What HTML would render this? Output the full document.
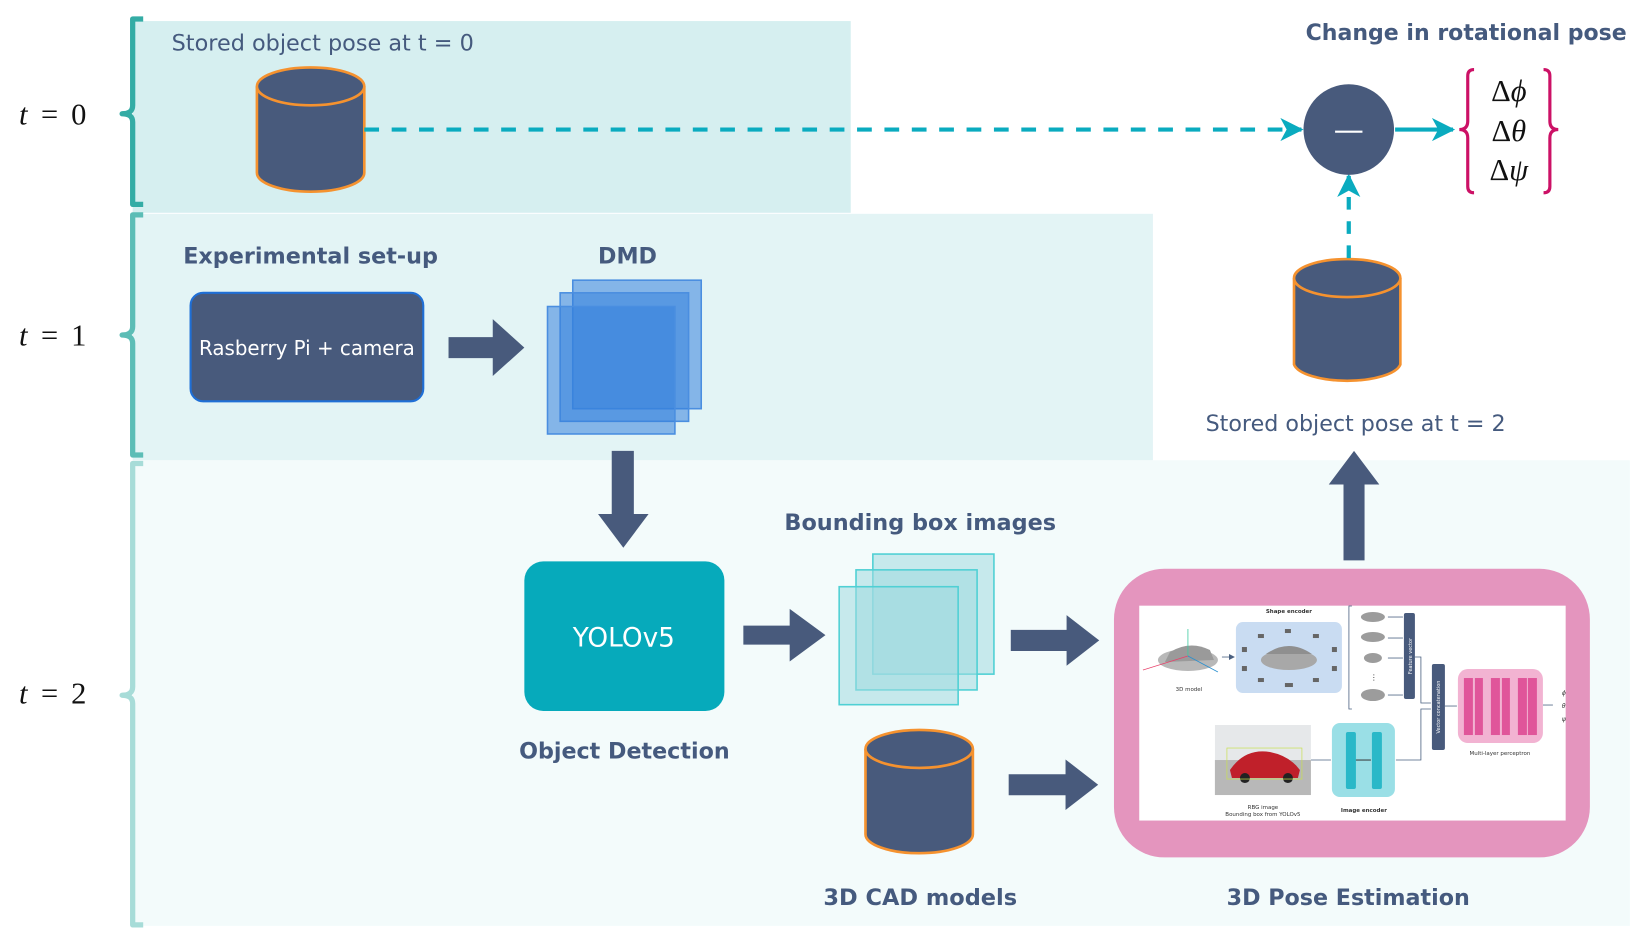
<!DOCTYPE html>
<html><head><meta charset="utf-8"><style>
html,body{margin:0;padding:0;background:#fff;}
svg{display:block;}
text{font-family:"DejaVu Sans","Liberation Sans",sans-serif;}
.b{font-weight:bold;fill:#455a7e;font-size:21px;}
.m{font-family:"Liberation Serif",serif;font-style:italic;font-size:29px;fill:#111;}
</style></head><body>
<svg width="1652" height="948" viewBox="0 0 1569 900" preserveAspectRatio="none" xmlns="http://www.w3.org/2000/svg">
<defs>
<marker id="ah2" markerWidth="22" markerHeight="22" refX="20" refY="11" orient="auto" markerUnits="userSpaceOnUse"><path d="M0,0 L22,11 L0,22 L6,11 Z" fill="#0aabbf"/></marker>
<marker id="sa" markerWidth="6" markerHeight="6" refX="5" refY="3" orient="auto" markerUnits="userSpaceOnUse"><path d="M0,0 L6,3 L0,6Z" fill="#4a6080"/></marker>
</defs>
<rect x="0" y="0" width="1569" height="900" fill="#fff"/>
<rect x="126" y="20" width="682" height="182" fill="#d6eff0"/>
<rect x="126" y="203" width="969" height="234" fill="#e3f4f5"/>
<rect x="126" y="437" width="1422" height="442" fill="#f3fbfb"/>
<path d="M136,18 H126 V100 Q126,108 116,108 Q126,108 126,116 V194 H136" fill="none" stroke="#34aca5" stroke-width="5" stroke-linejoin="round"/>
<path d="M136,204 H126 V310 Q126,318 116,318 Q126,318 126,326 V432 H136" fill="none" stroke="#5cbdb6" stroke-width="5" stroke-linejoin="round"/>
<path d="M136,440 H126 V652 Q126,660 116,660 Q126,660 126,668 V878 H136" fill="none" stroke="#a7dcd8" stroke-width="5" stroke-linejoin="round"/>
<text class="m" x="18" y="118" textLength="64" lengthAdjust="spacing">t = <tspan font-style="normal">0</tspan></text>
<text class="m" x="18" y="328" textLength="64" lengthAdjust="spacing">t = <tspan font-style="normal">1</tspan></text>
<text class="m" x="18" y="668" textLength="64" lengthAdjust="spacing">t = <tspan font-style="normal">2</tspan></text>
<text x="163" y="48" font-size="21" fill="#455a7e" textLength="287" lengthAdjust="spacingAndGlyphs">Stored object pose at t = 0</text>
<g stroke="#f5922f" stroke-width="2.5" fill="#485a7c">
<path d="M244,82 V164 A51,18 0 0 0 346,164 V82"/>
<ellipse cx="295" cy="82" rx="51" ry="18"/>
<path d="M1229,264 V346 A51,18 0 0 0 1330,346 V264"/>
<ellipse cx="1279.5" cy="264" rx="50.5" ry="18"/>
<path d="M822,711 V792 A51,18 0 0 0 924,792 V711"/>
<ellipse cx="873" cy="711" rx="51" ry="18"/>
</g>
<line x1="346" y1="123" x2="1236" y2="123" stroke="#0aabbf" stroke-width="4" stroke-dasharray="14,12" marker-end="url(#ah2)"/>
<line x1="1281" y1="245" x2="1281" y2="167" stroke="#0aabbf" stroke-width="4" stroke-dasharray="12,11" marker-end="url(#ah2)"/>
<circle cx="1281" cy="123" r="43" fill="#485a7c"/>
<line x1="1268" y1="125" x2="1294" y2="125" stroke="#fff" stroke-width="2"/>
<line x1="1325" y1="123" x2="1380" y2="123" stroke="#0aabbf" stroke-width="4" marker-end="url(#ah2)"/>
<text class="b" x="1240" y="38" textLength="305" lengthAdjust="spacingAndGlyphs">Change in rotational pose</text>
<path d="M1400,66 Q1394,66 1394,72 V115 Q1394,123 1386,123 Q1394,123 1394,131 V177 Q1394,183 1400,183" fill="none" stroke="#cc1166" stroke-width="3"/>
<path d="M1466,66 Q1472,66 1472,72 V115 Q1472,123 1480,123 Q1472,123 1472,131 V177 Q1472,183 1466,183" fill="none" stroke="#cc1166" stroke-width="3"/>
<text class="m" x="1433" y="96" text-anchor="middle" style="font-style:normal">Δ<tspan font-style="italic">ϕ</tspan></text>
<text class="m" x="1433" y="134" text-anchor="middle" style="font-style:normal">Δ<tspan font-style="italic">θ</tspan></text>
<text class="m" x="1433" y="171" text-anchor="middle" style="font-style:normal">Δ<tspan font-style="italic">ψ</tspan></text>
<text x="1145" y="409" font-size="21" fill="#455a7e" textLength="285" lengthAdjust="spacingAndGlyphs">Stored object pose at t = 2</text>
<g fill="#485a7c">
<path d="M1276,532 V460 H1262 L1286,428 L1310,460 H1296 V532 Z"/>
<path d="M426,320 H468 V303 L498,330 L468,357 V340 H426 Z"/>
<path d="M581,428 H602 V488 H616 L592,520 L568,488 H581 Z"/>
<path d="M706,594 H750 V578 L784,603 L750,628 V612 H706 Z"/>
<path d="M960,598 H1013 V584 L1044,608 L1013,632 V618 H960 Z"/>
<path d="M958,735 H1012 V721 L1043,745 L1012,769 V755 H958 Z"/>
</g>
<text class="b" x="174" y="250" textLength="242" lengthAdjust="spacingAndGlyphs">Experimental set-up</text>
<rect x="181" y="278" width="221" height="103" rx="12" fill="#485a7c" stroke="#1f6fd6" stroke-width="2"/>
<text x="189" y="337" font-size="19" fill="#fff" textLength="205" lengthAdjust="spacingAndGlyphs">Rasberry Pi + camera</text>
<text class="b" x="568" y="250" textLength="56" lengthAdjust="spacingAndGlyphs">DMD</text>
<g stroke="#4a8ee0" stroke-width="1.5" fill="rgba(55,130,220,0.55)">
<rect x="544" y="266" width="122" height="122"/>
<rect x="532" y="278" width="122" height="122"/>
<rect x="520" y="291" width="121" height="121"/>
</g>
<rect x="498" y="533" width="190" height="142" rx="18" fill="#06aabb"/>
<text x="544" y="614" font-size="25" fill="#fff" textLength="97" lengthAdjust="spacingAndGlyphs">YOLOv5</text>
<text class="b" x="493" y="720" textLength="200" lengthAdjust="spacingAndGlyphs">Object Detection</text>
<text class="b" x="745" y="503" textLength="258" lengthAdjust="spacingAndGlyphs">Bounding box images</text>
<g stroke="#4fd0d4" stroke-width="1.5" fill="rgba(160,218,224,0.55)">
<rect x="829" y="526" width="115" height="114"/>
<rect x="813" y="541" width="115" height="114"/>
<rect x="797" y="557" width="113" height="112"/>
</g>
<text class="b" x="782" y="859" textLength="184" lengthAdjust="spacingAndGlyphs">3D CAD models</text>
<text class="b" x="1165" y="859" textLength="231" lengthAdjust="spacingAndGlyphs">3D Pose Estimation</text>
<rect x="1058" y="540" width="452" height="274" rx="48" fill="#e495be"/>
<rect x="1082" y="575" width="405" height="204" fill="#fff"/>
<g transform="scale(0.9497,0.9494)" font-size="5.5" fill="#333">
<text x="1289" y="613" text-anchor="middle" font-weight="bold">Shape encoder</text>
<ellipse cx="1188" cy="660" rx="30" ry="11" fill="#b8b8b8"/>
<path d="M1170,652 Q1190,640 1210,650 L1214,660 L1165,662Z" fill="#9a9a9a"/>
<line x1="1188" y1="656" x2="1188" y2="629" stroke="#3cc9a0" stroke-width="0.8"/>
<line x1="1188" y1="656" x2="1143" y2="670" stroke="#e8406a" stroke-width="0.8"/>
<line x1="1188" y1="656" x2="1218" y2="672" stroke="#2a90d0" stroke-width="0.8"/>
<text x="1189" y="691" text-anchor="middle">3D model</text>
<line x1="1222" y1="657" x2="1234" y2="657" stroke="#4a6080" stroke-width="0.8" marker-end="url(#sa)"/>
<rect x="1236" y="622" width="106" height="71" rx="7" fill="#c9dcf2"/>
<ellipse cx="1289" cy="660" rx="28" ry="10" fill="#a8a8a8"/>
<path d="M1266,654 Q1289,638 1312,654Z" fill="#8f8f8f"/>
<g fill="#666">
<rect x="1258" y="634" width="6" height="4"/><rect x="1285" y="629" width="6" height="4"/><rect x="1313" y="634" width="6" height="4"/>
<rect x="1242" y="647" width="5" height="5"/><rect x="1332" y="647" width="5" height="5"/>
<rect x="1242" y="666" width="5" height="5"/><rect x="1332" y="666" width="5" height="5"/>
<rect x="1258" y="678" width="6" height="4"/><rect x="1285" y="683" width="8" height="4"/><rect x="1313" y="678" width="6" height="4"/>
</g>
<path d="M1352,606 H1349 V709 H1352" fill="none" stroke="#4a6080" stroke-width="0.8"/>
<g fill="#9c9c9c">
<ellipse cx="1373" cy="617" rx="12" ry="5"/><ellipse cx="1373" cy="637" rx="12" ry="5"/>
<ellipse cx="1373" cy="658" rx="9" ry="5"/><ellipse cx="1373" cy="695" rx="12" ry="6"/>
</g>
<text x="1374" y="680" text-anchor="middle" font-size="8">⋮</text>
<g stroke="#4a6080" stroke-width="0.8">
<line x1="1388" y1="617" x2="1403" y2="617"/><line x1="1388" y1="638" x2="1403" y2="638"/>
<line x1="1388" y1="658" x2="1403" y2="658"/><line x1="1388" y1="695" x2="1403" y2="695"/>
<polyline points="1415,657 1421,657 1421,703 1431,703" fill="none"/>
<polyline points="1396,760 1421,760 1421,709 1431,709" fill="none"/>
<line x1="1445" y1="706" x2="1457" y2="706"/>
<line x1="1311" y1="760" x2="1331" y2="760"/>
<line x1="1543" y1="705" x2="1553" y2="705"/>
</g>
<rect x="1404" y="613" width="11" height="86" rx="2" fill="#485a7c"/>
<text transform="translate(1412,656) rotate(-90)" text-anchor="middle" fill="#fff" font-size="5">Feature vector</text>
<rect x="1432" y="664" width="13" height="86" rx="2" fill="#485a7c"/>
<text transform="translate(1440,707) rotate(-90)" text-anchor="middle" fill="#fff" font-size="5">Vector concatenation</text>
<rect x="1458" y="669" width="85" height="74" rx="10" fill="#f2b3d2"/>
<g fill="#e0559a">
<rect x="1464" y="678" width="9" height="57"/><rect x="1475" y="678" width="8" height="57"/>
<rect x="1491" y="678" width="9" height="57"/><rect x="1502" y="678" width="8" height="57"/>
<rect x="1518" y="678" width="9" height="57"/><rect x="1528" y="678" width="9" height="57"/>
</g>
<text x="1500" y="755" text-anchor="middle">Multi-layer perceptron</text>
<text x="1562" y="695" font-size="6" font-style="italic">ϕ</text>
<text x="1562" y="708" font-size="6" font-style="italic">θ</text>
<text x="1562" y="721" font-size="6" font-style="italic">ψ</text>
<rect x="1215" y="725" width="96" height="70" fill="#e6e8ea"/>
<rect x="1215" y="760" width="96" height="35" fill="#b8b8b8"/>
<path d="M1230,770 Q1245,748 1270,752 Q1290,756 1300,770 L1298,778 L1232,778Z" fill="#c0202a"/>
<circle cx="1245" cy="778" r="5" fill="#222"/><circle cx="1288" cy="778" r="5" fill="#222"/>
<rect x="1227" y="748" width="75" height="31" fill="none" stroke="#c8e050" stroke-width="0.7"/>
<text x="1263" y="809" text-anchor="middle">RBG image</text>
<text x="1263" y="816" text-anchor="middle">Bounding box from YOLOv5</text>
<rect x="1332" y="723" width="63" height="74" rx="8" fill="#9adfe6"/>
<rect x="1346" y="732" width="10" height="57" rx="2" fill="#2ab8c8"/>
<rect x="1372" y="732" width="10" height="57" rx="2" fill="#2ab8c8"/>
<line x1="1356" y1="760" x2="1371" y2="760" stroke="#333" stroke-width="1"/>
<text x="1364" y="812" text-anchor="middle" font-weight="bold">Image encoder</text>
</g>
</svg>
</body></html>
